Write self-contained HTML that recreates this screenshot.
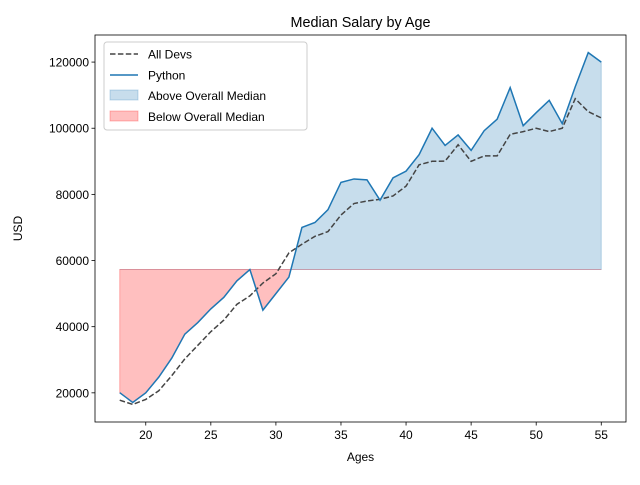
<!DOCTYPE html>
<html><head><meta charset="utf-8"><style>
body{margin:0;background:#fff}
svg{font-family:"Liberation Sans","DejaVu Sans",sans-serif}
</style></head><body>
<svg id="c" width="640" height="480" xmlns="http://www.w3.org/2000/svg"></svg>
<script>
const ages=[18,19,20,21,22,23,24,25,26,27,28,29,30,31,32,33,34,35,36,37,38,39,40,41,42,43,44,45,46,47,48,49,50,51,52,53,54,55];
const devY=[17784,16500,18012,20628,25206,30252,34368,38496,42000,46752,49320,53200,56000,62316,64928,67317,68748,73752,77232,78000,78508,79536,82488,88935,90000,90056,95000,90000,91633,91660,98150,98964,100000,98988,100000,108923,105000,103117];
const pyY=[20046,17100,20000,24744,30500,37732,41247,45372,48876,53850,57287,45000,50000,55000,70000,71496,75370,83640,84666,84392,78254,85000,87038,91991,100000,94796,97962,93302,99240,102736,112285,100771,104708,108423,101407,112542,122870,120000];
const overallMedian=57287;
const xTicks=[20,25,30,35,40,45,50,55];
const yTicks=[20000,40000,60000,80000,100000,120000];

const L=95,R=626,T=35,B=422;
const xmin=16.1,xmax=56.9,ymin=11182,ymax=128188;
const X=v=>L+(v-xmin)/(xmax-xmin)*(R-L);
const Y=v=>B-(v-ymin)/(ymax-ymin)*(B-T);
const svg=document.getElementById('c');
const NS='http://www.w3.org/2000/svg';
function mk(t,a,txt){const e=document.createElementNS(NS,t);for(const k in a)e.setAttribute(k,a[k]);if(txt!==undefined)e.textContent=txt;svg.appendChild(e);return e;}

function fillPoly(fn){
  const pts=[];
  for(let i=0;i<ages.length;i++){
    if(i>0){const a=pyY[i-1]-overallMedian,b=pyY[i]-overallMedian;
      if(a*b<0){const t=a/(a-b);pts.push([ages[i-1]+t*(ages[i]-ages[i-1]),overallMedian]);}}
    pts.push([ages[i],fn(pyY[i],overallMedian)]);
  }
  let d='M'+X(ages[0])+','+Y(overallMedian);
  pts.forEach(p=>d+=' L'+X(p[0])+','+Y(p[1]));
  d+=' L'+X(ages[ages.length-1])+','+Y(overallMedian)+' Z';
  return d;
}
let e=mk('path',{d:fillPoly(Math.max),fill:'#1f77b4','fill-opacity':0.25,stroke:'#1f77b4','stroke-opacity':0.25});

e=mk('path',{d:fillPoly(Math.min),fill:'#ff0000','fill-opacity':0.25,stroke:'#ff0000','stroke-opacity':0.25});


const line=arr=>ages.map((a,i)=>(i?'L':'M')+X(a)+','+Y(arr[i])).join(' ');
e=mk('path',{d:line(devY),fill:'none',stroke:'#444444','stroke-width':1.5,'stroke-dasharray':'5.5,2.4'});

e=mk('path',{d:line(pyY),fill:'none',stroke:'#1f77b4','stroke-width':1.5});


e=mk('rect',{x:L,y:T,width:R-L,height:B-T,fill:'none',stroke:'#000','stroke-width':0.8});


xTicks.forEach(v=>{
  mk('line',{x1:X(v),x2:X(v),y1:B,y2:B+3.5,stroke:'#000','stroke-width':0.8});
  e=mk('text',{x:X(v),y:B+17,'font-size':12,'text-anchor':'middle'},v);
  
});
yTicks.forEach(v=>{
  mk('line',{x1:L-3.5,x2:L,y1:Y(v),y2:Y(v),stroke:'#000','stroke-width':0.8});
  e=mk('text',{x:L-6,y:Y(v)+4.5,'font-size':12,'text-anchor':'end'},v);
  
});
e=mk('text',{x:(L+R)/2,y:461,'font-size':12,'text-anchor':'middle'},'Ages');

e=mk('text',{x:22,y:(T+B)/2,'font-size':12,'text-anchor':'middle',transform:'rotate(-90 22 '+((T+B)/2)+')'},'USD');

e=mk('text',{x:(L+R)/2,y:27,'font-size':14.4,'text-anchor':'middle'},'Median Salary by Age');


e=mk('rect',{x:104,y:42,width:203,height:88,rx:3,fill:'#fff','fill-opacity':0.8,stroke:'#ccc'});

const lx=110,tx=148;
mk('line',{x1:lx,x2:lx+28,y1:54,y2:54,stroke:'#444','stroke-width':1.5,'stroke-dasharray':'5.5,2.4'});
e=mk('text',{x:tx,y:58.5,'font-size':12},'All Devs');
mk('line',{x1:lx,x2:lx+28,y1:75,y2:75,stroke:'#1f77b4','stroke-width':1.5});
e=mk('text',{x:tx,y:79.5,'font-size':12},'Python');
mk('rect',{x:lx,y:90,width:28,height:10,fill:'#1f77b4','fill-opacity':0.25,stroke:'#1f77b4','stroke-opacity':0.25});
e=mk('text',{x:tx,y:100,'font-size':12},'Above Overall Median');
mk('rect',{x:lx,y:111,width:28,height:10,fill:'#ff0000','fill-opacity':0.25,stroke:'#ff0000','stroke-opacity':0.25});
e=mk('text',{x:tx,y:121,'font-size':12},'Below Overall Median');
</script>
</body></html>
